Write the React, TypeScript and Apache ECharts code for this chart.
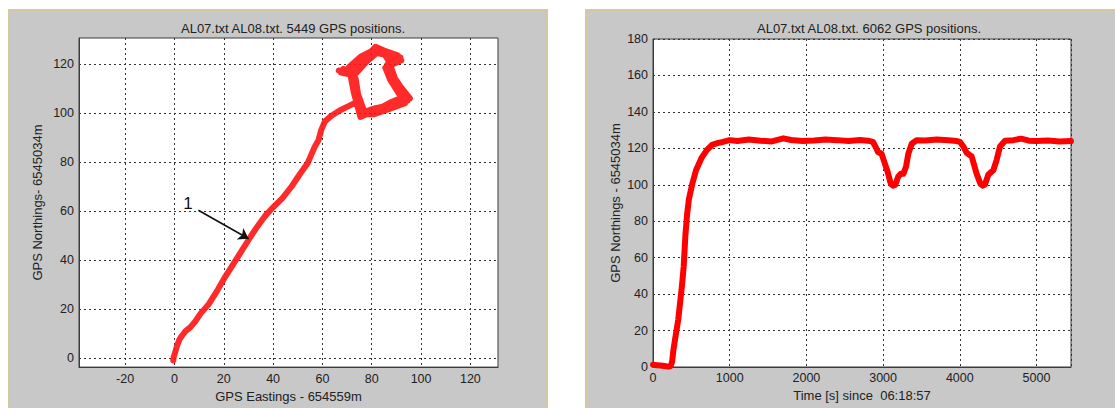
import React, { useEffect, useRef } from "react";
import * as echarts from "echarts";

// Left plot: GPS track (Eastings vs Northings, metres relative to offsets)
const trackEast = [
  -0.5, -0.3, 0.5, 1.1, 2.0, 3.1, 4.5, 6.5, 8.5, 10.5, 13.9, 17.3, 20.0, 23.4, 26.8, 30.8,
  33.5, 36.6, 40.0, 43.8, 47.5, 51.1, 54.0, 55.5, 56.9, 58.4, 59.5, 61.0, 63.5, 67.0, 71.0, 74.0,
  75.5, 79.5, 86.0, 95.0, 92.5, 90.3, 88.0, 86.2, 91.6, 86.2, 80.8, 76.8, 71.4, 66.6, 71.0, 72.7, 75.4,
  80.0, 87.0, 94.5, 91.0, 88.5, 86.5, 90.5, 85.0, 81.5, 77.5, 72.0, 67.5, 72.5, 73.5, 76.5,
  81.0, 88.0, 93.5, 90.0, 87.5, 85.5, 92.0, 87.0, 82.0, 78.0, 73.0, 68.5, 73.5, 74.5, 77.0,
  81.5, 86.5, 93.0, 95.5, 91.5, 89.5, 87.0, 84.5, 80.5, 75.5, 70.5, 72.0, 75.5,
  80.0, 88.0, 94.0,
];
const trackNorth = [
  -1.0, 0.4, 3.0, 5.1, 7.5, 9.2, 11.0, 12.6, 15.0, 18.0, 22.0, 27.4, 32.2, 37.6, 43.0, 49.4,
  53.5, 57.8, 61.5, 65.3, 70.0, 75.4, 79.5, 83.0, 86.2, 88.9, 93.0, 96.5, 98.8, 101.0, 103.0, 104.5,
  99.0, 101.0, 103.0, 106.0, 109.0, 111.2, 116.0, 119.5, 122.7, 124.7, 126.1, 122.0, 116.6, 117.3, 117.5, 108.5, 98.4,
  100.5, 103.5, 105.0, 110.5, 115.0, 120.0, 123.5, 125.5, 127.0, 122.5, 117.0, 116.5, 115.5, 108.0, 99.5,
  99.5, 102.0, 104.0, 109.5, 113.5, 118.5, 121.5, 123.5, 124.5, 121.0, 115.5, 118.0, 114.0, 107.5, 100.5,
  102.0, 103.0, 107.0, 106.0, 111.0, 114.0, 121.0, 125.0, 125.5, 123.0, 118.5, 113.0, 101.0,
  100.0, 104.5, 107.0,
];

// Right plot: Northing vs time
const timeSec = [
  0, 50, 100, 150, 200, 230, 250, 265, 287, 329, 376, 400, 422, 445, 468, 515, 561, 631, 701, 770,
  850, 911, 1000, 1100, 1250, 1400, 1550, 1700, 1800, 1950, 2100, 2250, 2400, 2550, 2700, 2800, 2868,
  2900, 2933, 2980, 3020, 3060, 3100, 3130, 3160, 3198, 3230, 3264, 3300, 3329, 3373, 3438,
  3550, 3700, 3850, 3960, 4003,
  4046, 4090, 4155, 4220, 4270, 4300, 4328, 4372, 4410, 4437, 4481, 4524, 4590,
  4700, 4800, 4900, 5000, 5150, 5300, 5449,
];
const northTime = [
  1.2, 1.0, 0.8, 0.5, 0.2, 0.5, 3, 9, 15, 26, 44, 55, 72, 84, 92, 101, 108, 114.6, 119, 121.9,
  123, 123.5, 124.5, 124, 124.8, 124.2, 123.8, 125.5, 124.6, 124, 124.3, 124.8, 124.5, 124, 124.6, 124.2, 123.5,
  121, 118, 117, 112, 107, 100.5, 99.5, 100, 104.5, 106, 106, 110, 117, 122.5, 124.5,
  124.3, 124.8, 124.4, 124, 123.5,
  121, 117.5, 115.5, 106, 100.5, 99.5, 100.2, 105.5, 107, 108, 113.7, 121, 124.2,
  124.5, 125.3, 124.2, 124, 124.3, 123.8, 124,
];

const leftTicksX = [-20, 0, 20, 40, 60, 80, 100, 120];
const leftTicksY = [0, 20, 40, 60, 80, 100, 120];

const FONT = "'Liberation Sans', Arial, sans-serif";
const TXT = "#222";
const BOX = "#3c3c3c";

const split = { show: true, lineStyle: { color: "#333", type: [2, 3] as any, width: 1 } };

export default function App() {
  const ref = useRef<HTMLDivElement>(null);
  useEffect(() => {
    if (!ref.current) return;
    const chart = echarts.init(ref.current, null, { renderer: "svg" });
    const leftData = trackEast.map((e, i) => [e, trackNorth[i]]);
    const rightData = timeSec.map((t, i) => [t, northTime[i]]);
    const axisLbl = { color: TXT, fontFamily: FONT, fontSize: 12.5, margin: 5 };
    const nameStyle = { color: TXT, fontFamily: FONT, fontSize: 13 };
    const line = { show: true, onZero: false, lineStyle: { color: BOX } };
    chart.setOption({
      animation: false,
      backgroundColor: "#ffffff",
      textStyle: { fontFamily: FONT },
      graphic: [
        { type: "rect", z: -10, shape: { x: 8, y: 9, width: 540, height: 399 }, style: { fill: "#d6c7a3" } },
        { type: "rect", z: -9, shape: { x: 10, y: 11, width: 536, height: 397 }, style: { fill: "#c8c8c8" } },
        { type: "rect", z: -10, shape: { x: 585, y: 9, width: 530, height: 399 }, style: { fill: "#d6c7a3" } },
        { type: "rect", z: -9, shape: { x: 587, y: 11, width: 528, height: 397 }, style: { fill: "#c8c8c8" } },
      ],
      title: [
        {
          text: "AL07.txt AL08.txt. 5449 GPS positions.",
          left: 288, top: 17, textAlign: "center",
          textStyle: { color: TXT, fontFamily: FONT, fontSize: 13, fontWeight: "normal" },
        },
        {
          text: "AL07.txt AL08.txt. 6062 GPS positions.",
          left: 864, top: 17, textAlign: "center",
          textStyle: { color: TXT, fontFamily: FONT, fontSize: 13, fontWeight: "normal" },
        },
      ],
      grid: [
        { left: 79, top: 38, width: 419, height: 330, show: true, backgroundColor: "#fff", borderColor: BOX, borderWidth: 1 },
        { left: 653, top: 39, width: 418, height: 328, show: true, backgroundColor: "#fff", borderColor: BOX, borderWidth: 1 },
      ],
      xAxis: [
        {
          type: "value", gridIndex: 0, min: -38.7, max: 131.2,
          name: "GPS Eastings - 654559m", nameLocation: "middle", nameGap: 21, nameTextStyle: nameStyle,
          axisLine: line,
          axisTick: { show: false, customValues: leftTicksX },
          axisLabel: { ...axisLbl, customValues: leftTicksX },
          splitLine: split,
        },
        {
          type: "value", gridIndex: 1, min: 0, max: 5450, interval: 1000,
          name: "Time [s] since  06:18:57", nameLocation: "middle", nameGap: 20, nameTextStyle: nameStyle,
          axisLine: line,
          axisTick: { show: false },
          axisLabel: { ...axisLbl, margin: 4, showMaxLabel: false, formatter: (v: number) => String(v) },
          splitLine: split,
        },
      ],
      yAxis: [
        {
          type: "value", gridIndex: 0, min: -3.7, max: 130.6,
          name: "GPS Northings- 6545034m", nameLocation: "middle", nameGap: 35, nameTextStyle: nameStyle,
          axisLine: line,
          axisTick: { show: false, customValues: leftTicksY },
          axisLabel: { ...axisLbl, customValues: leftTicksY },
          splitLine: split,
        },
        {
          type: "value", gridIndex: 1, min: 0, max: 180, interval: 20,
          name: "GPS Northings - 6545034m", nameLocation: "middle", nameGap: 31, nameTextStyle: nameStyle,
          axisLine: line,
          axisTick: { show: false },
          axisLabel: axisLbl,
          splitLine: split,
        },
      ],
      series: [
        {
          type: "line", xAxisIndex: 0, yAxisIndex: 0, data: leftData, symbol: "none",
          lineStyle: { color: "#ff1414", width: 6, opacity: 0.9, join: "round", cap: "round" },
          markLine: {
            silent: true, symbol: ["none", "arrow"], symbolSize: 10,
            label: { show: false },
            lineStyle: { color: "#111", width: 1.6, type: "solid" },
            data: [[{ coord: [9.7, 60.3] }, { coord: [30.1, 48.7] }]],
          },
          markPoint: {
            silent: true,
            data: [{ coord: [5.5, 63.2], symbol: "circle", symbolSize: 0,
              label: { show: true, formatter: "1", color: "#111", fontSize: 17, fontFamily: FONT, position: "inside" } }],
          },
        },
        {
          type: "line", xAxisIndex: 1, yAxisIndex: 1, data: rightData, symbol: "none",
          lineStyle: { color: "#ff0000", width: 6, join: "round", cap: "round" },
        },
      ],
    });
    return () => chart.dispose();
  }, []);
  return <div ref={ref} style={{ position: "fixed", left: 0, top: 0, width: 1115, height: 408 }} />;
}
